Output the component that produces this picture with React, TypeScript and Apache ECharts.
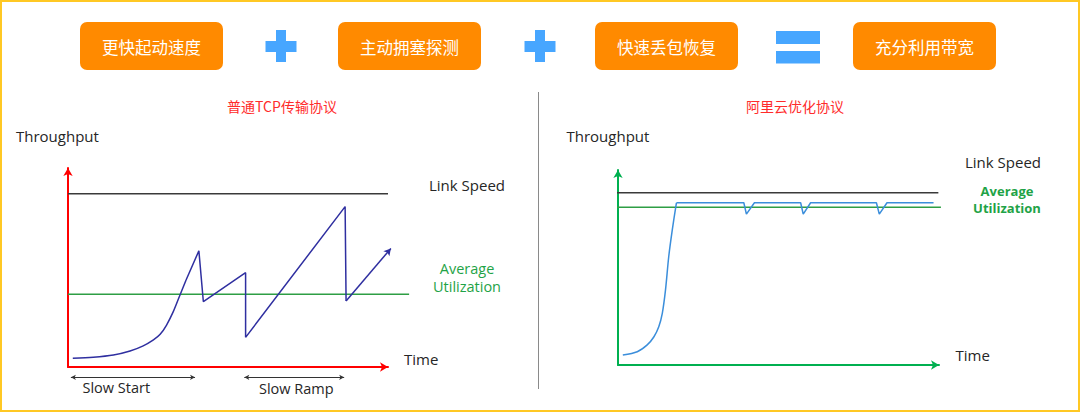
import React, { useEffect, useRef } from 'react';
import * as echarts from 'echarts';

// ---- data ----
const stepLabels = ['更快起动速度', '主动拥塞探测', '快速丢包恢复', '充分利用带宽'];
const chartTitles = ['普通TCP传输协议', '阿里云优化协议'];

// Left chart: standard TCP (time 0..100, throughput 0..100)
const tcpTime = [1.5, 7.9, 14.2, 19.4, 23.5, 26.7, 28.8, 30.8, 32.9, 35.0, 36.9, 40.9, 42.3, 55.5, 55.5, 86.6, 86.9];
const tcpThroughput = [4.4, 4.9, 6.0, 8.0, 10.6, 13.6, 16.4, 21.1, 27.8, 36.2, 43.7, 58.4, 32.8, 47.4, 14.9, 80.6, 33.2];
const tcpCurvePoints = 11; // first points form the smooth slow-start curve
const tcpArrowEnd = [100.9, 59.6];
const tcpLinkSpeed = 87.1;
const tcpAverage = 36.5;
const tcpAverageEnd = 106.6;
const phaseNames = ['Slow Start', 'Slow Ramp'];
const phaseStart = [0.9, 55.1];
const phaseEnd = [39.7, 86.3];
const phaseLevel = -5.2;

// Right chart: Aliyun optimised protocol
const aliTime = [1.5, 6.0, 9.1, 11.2, 12.7, 13.8, 14.8, 15.8, 16.9, 18.2, 39.2, 40.0, 42.5, 56.9, 57.7, 60.0, 80.5, 81.4, 83.8, 98.3];
const aliThroughput = [5.1, 6.8, 10.3, 14.5, 19.6, 26.5, 38.5, 55.5, 69.2, 83.2, 83.2, 77.4, 83.2, 83.2, 77.4, 83.2, 83.2, 77.4, 83.2, 83.2];
const aliCurvePoints = 10; // first points form the smooth ramp-up curve
const aliLinkSpeed = 88.3;
const aliAverage = 80.9;
const aliLineStart = -0.5;
const aliLinkEnd = 99.8;
const aliAverageEnd = 100.6;

const FONT_LATIN = '"Open Sans", "Noto Sans", sans-serif';
const FONT_CJK = '"Noto Sans CJK SC", "Noto Sans", sans-serif';

const RED = '#FF0000';
const GREEN_AXIS = '#00B050';
const GREEN_LINE = '#2E9E44';
const GREEN_TEXT = '#1FA347';
const NAVY = '#2F2FA0';
const BLUE = '#3B8EDB';
const DARK = '#3A3A3A';
const ORANGE = '#FF8A00';
const PLUS_BLUE = '#47A6FF';

function axisCfg(gridIndex: number, color: string) {
  return {
    type: 'value',
    gridIndex,
    min: 0,
    max: 100,
    axisLine: {
      show: true,
      onZero: false,
      lineStyle: { color, width: 2 },
      symbol: ['none', 'arrow'],
      symbolSize: [7, 8],
    },
    axisTick: { show: false },
    axisLabel: { show: false },
    splitLine: { show: false },
  };
}

function hiddenAxis(gridIndex: number, min: number, max: number) {
  return { type: 'value', gridIndex, min, max, show: false, splitLine: { show: false } };
}

function txt(text: string, x: number, y: number, opts: any = {}) {
  return {
    type: 'text',
    x,
    y,
    silent: true,
    style: {
      text,
      fill: opts.fill || '#262626',
      fontSize: opts.fontSize || 15,
      fontFamily: opts.fontFamily || FONT_LATIN,
      fontWeight: opts.fontWeight || 'normal',
      align: opts.align || 'left',
      verticalAlign: 'middle',
      lineHeight: opts.lineHeight,
    },
  };
}

function buildGraphic() {
  const g: any[] = [];
  // outer border
  g.push({ type: 'rect', shape: { x: 1, y: 1, width: 1078, height: 410 }, style: { fill: 'none', stroke: '#FFC824', lineWidth: 2 }, silent: true });
  // step boxes
  const boxX = [80, 338, 595, 853];
  boxX.forEach((bx, i) => {
    g.push({ type: 'rect', shape: { x: bx, y: 22, width: 143, height: 48, r: 7 }, style: { fill: ORANGE }, silent: true });
    g.push(txt(stepLabels[i], bx + 71.5, 46.5, { fill: '#ffffff', fontSize: 16.5, fontFamily: FONT_CJK, align: 'center' }));
  });
  // plus signs
  [281, 540].forEach((cx) => {
    g.push({ type: 'rect', shape: { x: cx - 15.5, y: 41, width: 31, height: 11 }, style: { fill: PLUS_BLUE }, silent: true });
    g.push({ type: 'rect', shape: { x: cx - 5, y: 30, width: 10, height: 32 }, style: { fill: PLUS_BLUE }, silent: true });
  });
  // equals sign
  g.push({ type: 'rect', shape: { x: 776, y: 31, width: 44, height: 13 }, style: { fill: PLUS_BLUE }, silent: true });
  g.push({ type: 'rect', shape: { x: 776, y: 51, width: 44, height: 12.5 }, style: { fill: PLUS_BLUE }, silent: true });
  // divider
  g.push({ type: 'line', shape: { x1: 538.5, y1: 92, x2: 538.5, y2: 389 }, style: { stroke: '#8a8a8a', lineWidth: 1 }, silent: true });
  // titles
  g.push(txt(chartTitles[0], 282, 106, { fill: '#FF2B2B', fontSize: 14, fontFamily: FONT_CJK, align: 'center' }));
  g.push(txt(chartTitles[1], 795, 106, { fill: '#FF2B2B', fontSize: 14, fontFamily: FONT_CJK, align: 'center' }));
  // left labels
  g.push(txt('Throughput', 16, 136));
  g.push(txt('Link Speed', 429, 185));
  g.push(txt('Average\nUtilization', 467, 277.5, { fill: GREEN_TEXT, align: 'center', lineHeight: 18, fontSize: 14.5 }));
  g.push(txt('Time', 404, 359));
  g.push(txt(phaseNames[0], 82.5, 387, { fontSize: 14.5 }));
  g.push(txt(phaseNames[1], 259, 388, { fontSize: 14.5 }));
  // right labels
  g.push(txt('Throughput', 566.5, 136));
  g.push(txt('Link Speed', 965, 161.5));
  g.push(txt('Average\nUtilization', 1007, 199.5, { fill: GREEN_TEXT, fontWeight: 'bold', fontSize: 13, align: 'center', lineHeight: 17 }));
  g.push(txt('Time', 955.5, 355));
  return g;
}

function zip(xs: number[], ys: number[]) {
  return xs.map((x, i) => [x, ys[i]]);
}

function levelLine(xi: number, start: number, end: number, value: number, color: string) {
  return {
    type: 'line',
    xAxisIndex: xi,
    yAxisIndex: xi,
    data: [[start, value], [end, value]],
    symbol: 'none',
    lineStyle: { color, width: 1.5 },
    clip: false,
    silent: true,
    z: 2,
  };
}

function pathSeries(xi: number, data: number[][], color: string, smooth: boolean, extra: any = {}) {
  return {
    type: 'line',
    xAxisIndex: xi,
    yAxisIndex: xi,
    data,
    symbol: 'none',
    smooth: smooth ? 0.3 : false,
    lineStyle: { color, width: 1.5 },
    clip: false,
    silent: true,
    z: 3,
    ...extra,
  };
}

export default function App() {
  const ref = useRef<HTMLDivElement>(null);
  useEffect(() => {
    if (!ref.current) return;
    const chart = echarts.init(ref.current, undefined, { renderer: 'svg' });
    const tcpPts = zip(tcpTime, tcpThroughput);
    const aliPts = zip(aliTime, aliThroughput);
    const tcpLast = tcpPts[tcpPts.length - 1];
    // Left plot area: 320 x 199 px for 100 x 100 units; an overlay grid with the same
    // scale but a wider extent (0..110, -10..100) carries the left-hand data.
    const option: any = {
      animation: false,
      backgroundColor: '#ffffff',
      grid: [
        { left: 68, top: 168, width: 320, height: 199 },
        { left: 618, top: 170, width: 321, height: 195 },
        { left: 68, top: 168, width: 352, height: 218.9 },
      ],
      xAxis: [axisCfg(0, RED), axisCfg(1, GREEN_AXIS), hiddenAxis(2, 0, 110)],
      yAxis: [axisCfg(0, RED), axisCfg(1, GREEN_AXIS), hiddenAxis(2, -10, 100)],
      series: [
        levelLine(2, 0, 100, tcpLinkSpeed, DARK),
        levelLine(2, 0, tcpAverageEnd, tcpAverage, GREEN_LINE),
        pathSeries(2, tcpPts.slice(0, tcpCurvePoints), NAVY, true),
        pathSeries(2, tcpPts.slice(tcpCurvePoints - 1), NAVY, false, {
          markLine: {
            silent: true,
            symbol: ['none', 'arrow'],
            symbolSize: [6, 7],
            label: { show: false },
            lineStyle: { type: 'solid', color: NAVY, width: 1.5 },
            data: [[{ coord: tcpLast }, { coord: tcpArrowEnd }]],
          },
        }),
        {
          type: 'line',
          xAxisIndex: 2,
          yAxisIndex: 2,
          data: [],
          symbol: 'none',
          clip: false,
          silent: true,
          markLine: {
            silent: true,
            symbol: ['arrow', 'arrow'],
            symbolSize: [4, 5],
            label: { show: false },
            lineStyle: { type: 'solid', color: '#333333', width: 1 },
            data: phaseNames.map((_, i) => [
              { coord: [phaseStart[i], phaseLevel] },
              { coord: [phaseEnd[i], phaseLevel] },
            ]),
          },
        },
        levelLine(1, aliLineStart, aliLinkEnd, aliLinkSpeed, DARK),
        levelLine(1, aliLineStart, aliAverageEnd, aliAverage, GREEN_LINE),
        pathSeries(1, aliPts.slice(0, aliCurvePoints), BLUE, true),
        pathSeries(1, aliPts.slice(aliCurvePoints - 1), BLUE, false),
      ],
      graphic: buildGraphic(),
    };
    chart.setOption(option);
    return () => chart.dispose();
  }, []);
  return (
    <div
      ref={ref}
      style={{ position: 'absolute', left: 0, top: 0, width: 1080, height: 412, background: '#fff' }}
    />
  );
}
